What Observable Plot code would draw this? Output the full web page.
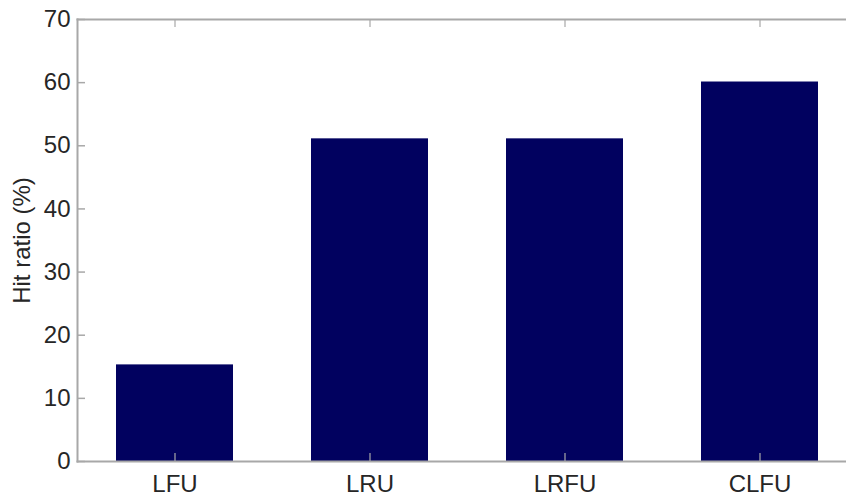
<!DOCTYPE html>
<html>
<head>
<meta charset="utf-8">
<script src="https://cdn.jsdelivr.net/npm/d3@7"></script>
<script src="https://cdn.jsdelivr.net/npm/@observablehq/plot@0.6"></script>
<style>
  html, body { margin: 0; padding: 0; background: #fff; }
  #chart svg { display: block; }
</style>
</head>
<body>
<div id="chart"></div>
<script>
const categories = ["LFU", "LRU", "LRFU", "CLFU"];
const hitRatio = [15.3, 51.1, 51.1, 60.1];
const yTicks = [0, 10, 20, 30, 40, 50, 60, 70];
const yLabel = "Hit ratio (%)";

const data = categories.map((c, i) => ({category: c, value: hitRatio[i]}));

const axisColor = "#a8a8a8";
const textColor = "#262626";

const chart = Plot.plot({
  width: 846,
  height: 498,
  marginLeft: 77,
  marginTop: 19,
  marginBottom: 37,
  marginRight: 0,
  style: {fontFamily: "'Liberation Sans', Arial, sans-serif", fontSize: "24px", color: textColor, background: "#fff"},
  x: {domain: categories, paddingInner: 0.4, paddingOuter: 0.2, range: [77, 857]},
  y: {domain: [0, 70]},
  marks: [
    Plot.barY(data, {x: "category", y: "value", fill: "#01015f"}),
    // inward y ticks
    Plot.tickY(yTicks, {y: d => d, stroke: axisColor, strokeWidth: 1.5, insetRight: 761}),
    // inward x ticks (bottom and top)
    Plot.ruleX(categories, {x: d => d, stroke: axisColor, strokeWidth: 1.2, insetTop: 434}),
    Plot.ruleX(categories, {x: d => d, stroke: axisColor, strokeWidth: 1.2, insetBottom: 434}),
    // box lines
    Plot.frame({anchor: "left", stroke: axisColor, strokeWidth: 2}),
    Plot.frame({anchor: "bottom", stroke: axisColor, strokeWidth: 2}),
    Plot.frame({anchor: "top", stroke: axisColor, strokeWidth: 2}),
    Plot.axisY(yTicks, {tickSize: 0, tickPadding: 7, fontSize: 24, fill: textColor,
      label: yLabel, labelAnchor: "center", labelArrow: "none", labelOffset: 65}),
    Plot.axisX({tickSize: 0, tickPadding: 13, fontSize: 24, fill: textColor, label: null})
  ]
});
document.getElementById("chart").appendChild(chart);
</script>
</body>
</html>
